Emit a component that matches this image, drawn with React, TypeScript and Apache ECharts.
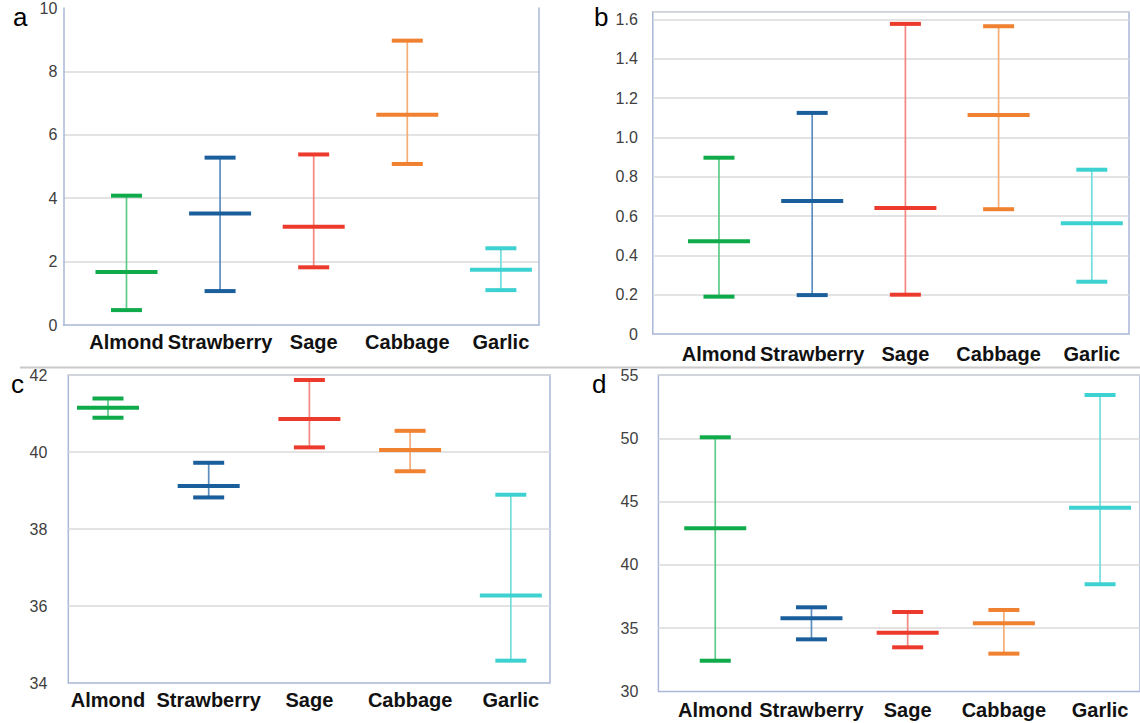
import React, { useEffect, useRef } from "react";
import * as echarts from "echarts";

// ---- data ----
const categories = ["Almond", "Strawberry", "Sage", "Cabbage", "Garlic"];
const capColors = ["#0fab4b", "#1b5e9c", "#ec3a2c", "#f08131", "#3ed1d1"];
const stemColors = ["#5dcb87", "#5b8dbf", "#f4877f", "#f5ad78", "#73dddd"];

// panel a
const aMin = [0.47, 1.07, 1.82, 5.08, 1.1];
const aMean = [1.67, 3.52, 3.1, 6.63, 1.74];
const aMax = [4.08, 5.28, 5.38, 8.97, 2.42];
const aTicks = [0, 2, 4, 6, 8, 10];

// panel b
const bMin = [0.19, 0.198, 0.2, 0.635, 0.266];
const bMean = [0.472, 0.677, 0.641, 1.115, 0.563];
const bMax = [0.897, 1.125, 1.578, 1.566, 0.836];
const bTicks = [0, 0.2, 0.4, 0.6, 0.8, 1.0, 1.2, 1.4, 1.6];

// panel c
const cMin = [40.89, 38.82, 40.12, 39.5, 34.58];
const cMean = [41.15, 39.12, 40.86, 40.05, 36.27];
const cMax = [41.39, 39.72, 41.87, 40.55, 38.89];
const cTicks = [34, 36, 38, 40, 42];

// panel d
const dMin = [32.43, 34.12, 33.49, 32.99, 38.47];
const dMean = [42.89, 35.78, 34.65, 35.39, 44.52];
const dMax = [50.08, 36.65, 36.28, 36.44, 53.42];
const dTicks = [30, 35, 40, 45, 50, 55];

const FONT = "'Liberation Sans', Arial, Helvetica, sans-serif";
const BORDER = "#a9b7d8";
const GRIDLINE = "#dadada";

type Panel = {
  letter: string;
  lo: number[];
  mid: number[];
  hi: number[];
  ticks: number[];
  yMax: number;
  grid: { left: number; top: number; width: number; height: number };
  xRange: [number, number];
  yLabelMargin: number;
  xLabelMargin: number;
  openTop: boolean;
  decimals: number;
  letterPos: [number, number];
};

const panels: Panel[] = [
  {
    letter: "a", lo: aMin, mid: aMean, hi: aMax, ticks: aTicks, yMax: 10,
    grid: { left: 63.3, top: 8, width: 475.7, height: 317 },
    xRange: [-0.675, 4.407], yLabelMargin: 6, xLabelMargin: 7, openTop: true, decimals: 0,
    letterPos: [13, 4],
  },
  {
    letter: "b", lo: bMin, mid: bMean, hi: bMax, ticks: bTicks, yMax: 1.64,
    grid: { left: 652.8, top: 11.7, width: 476.2, height: 322.3 },
    xRange: [-0.71, 4.399], yLabelMargin: 15, xLabelMargin: 10, openTop: false, decimals: 1,
    letterPos: [594, 4],
  },
  {
    letter: "c", lo: cMin, mid: cMean, hi: cMax, ticks: cTicks, yMax: 42,
    grid: { left: 68.3, top: 375, width: 481.7, height: 308 },
    xRange: [-0.394, 4.389], yLabelMargin: 21, xLabelMargin: 7, openTop: false, decimals: 0,
    letterPos: [11, 371],
  },
  {
    letter: "d", lo: dMin, mid: dMean, hi: dMax, ticks: dTicks, yMax: 55,
    grid: { left: 658.4, top: 375, width: 483.6, height: 316.5 },
    xRange: [-0.591, 4.415], yLabelMargin: 20, xLabelMargin: 8.5, openTop: false, decimals: 0,
    letterPos: [592, 371],
  },
];

function buildOption() {
  const grid: any[] = [];
  const xAxis: any[] = [];
  const yAxis: any[] = [];
  const series: any[] = [];
  const graphic: any[] = [];

  panels.forEach((p, gi) => {
    grid.push({
      ...p.grid,
      show: !p.openTop,
      borderColor: BORDER,
      borderWidth: 1.5,
      containLabel: false,
    });
    xAxis.push({
      type: "value",
      gridIndex: gi,
      min: p.xRange[0],
      max: p.xRange[1],
      minInterval: 1,
      maxInterval: 1,
      splitNumber: 5,
      axisTick: { show: false },
      splitLine: { show: false },
      axisLine: { show: p.openTop, onZero: false, lineStyle: { color: BORDER, width: 1.5 } },
      axisLabel: {
        margin: p.xLabelMargin,
        showMinLabel: false,
        showMaxLabel: false,
        fontFamily: FONT,
        fontWeight: "bold",
        fontSize: 20,
        color: "#111111",
        formatter: (v: number) => {
          const r = Math.round(v);
          return Math.abs(v - r) < 1e-6 && categories[r] ? categories[r] : "";
        },
      },
    });
    const step = p.ticks[1] - p.ticks[0];
    yAxis.push({
      type: "value",
      gridIndex: gi,
      min: p.ticks[0],
      max: p.yMax,
      interval: step,
      axisTick: { show: false },
      axisLine: { show: p.openTop, onZero: false, lineStyle: { color: BORDER, width: 1.5 } },
      splitLine: {
        show: true,
        showMinLine: false,
        showMaxLine: !p.openTop,
        lineStyle: { color: GRIDLINE, width: 1.5 },
      },
      axisLabel: {
        margin: p.yLabelMargin,
        fontFamily: FONT,
        fontSize: 16,
        color: "#404040",
        showMaxLabel: p.ticks.some((t) => Math.abs(t - p.yMax) < 1e-9),
        formatter: (v: number) => (v === 0 ? "0" : v.toFixed(p.decimals)),
      },
    });
    if (p.openTop) {
      // right border of panel a
      yAxis.push({
        type: "value",
        gridIndex: gi,
        position: "right",
        min: p.ticks[0],
        max: p.yMax,
        interval: step,
        axisTick: { show: false },
        axisLabel: { show: false },
        splitLine: { show: false },
        axisLine: { show: true, onZero: false, lineStyle: { color: BORDER, width: 1.5 } },
      });
    }
    const yIndex = yAxis.findIndex((a) => a.gridIndex === gi);
    series.push({
      type: "custom",
      xAxisIndex: gi,
      yAxisIndex: yIndex,
      encode: { x: 0, y: [1, 2, 3] },
      data: categories.map((_, i) => [i, p.lo[i], p.mid[i], p.hi[i]]),
      renderItem: (params: any, api: any) => {
        const i = params.dataIndex;
        const x = api.value(0);
        const lo = api.coord([x, api.value(1)]);
        const mid = api.coord([x, api.value(2)]);
        const hi = api.coord([x, api.value(3)]);
        const cx = hi[0];
        const cap = 15.5;
        const half = 31;
        return {
          type: "group",
          children: [
            { type: "line", shape: { x1: cx, y1: hi[1], x2: cx, y2: lo[1] }, style: { stroke: stemColors[i], lineWidth: 1.7 } },
            { type: "line", shape: { x1: cx - cap, y1: hi[1], x2: cx + cap, y2: hi[1] }, style: { stroke: capColors[i], lineWidth: 4 } },
            { type: "line", shape: { x1: cx - cap, y1: lo[1], x2: cx + cap, y2: lo[1] }, style: { stroke: capColors[i], lineWidth: 4 } },
            { type: "line", shape: { x1: cx - half, y1: mid[1], x2: cx + half, y2: mid[1] }, style: { stroke: capColors[i], lineWidth: 4 } },
          ],
        };
      },
    });
    graphic.push({
      type: "text",
      left: p.letterPos[0],
      top: p.letterPos[1],
      style: { text: p.letter, font: `26px ${FONT}`, fill: "#000000" },
    });
  });

  graphic.push({
    type: "line",
    shape: { x1: 20, y1: 367.5, x2: 1140, y2: 367.5 },
    style: { stroke: "#cacaca", lineWidth: 2 },
  });

  return {
    animation: false,
    backgroundColor: "#ffffff",
    textStyle: { fontFamily: FONT },
    grid,
    xAxis,
    yAxis,
    series,
    graphic,
  };
}

export default function App() {
  const ref = useRef<HTMLDivElement>(null);
  useEffect(() => {
    if (!ref.current) return;
    const chart = echarts.init(ref.current, undefined, { renderer: "svg" });
    chart.setOption(buildOption() as any);
    return () => chart.dispose();
  }, []);
  return (
    <div
      ref={ref}
      style={{ position: "fixed", left: 0, top: 0, width: 1140, height: 723, background: "#fff" }}
    />
  );
}
